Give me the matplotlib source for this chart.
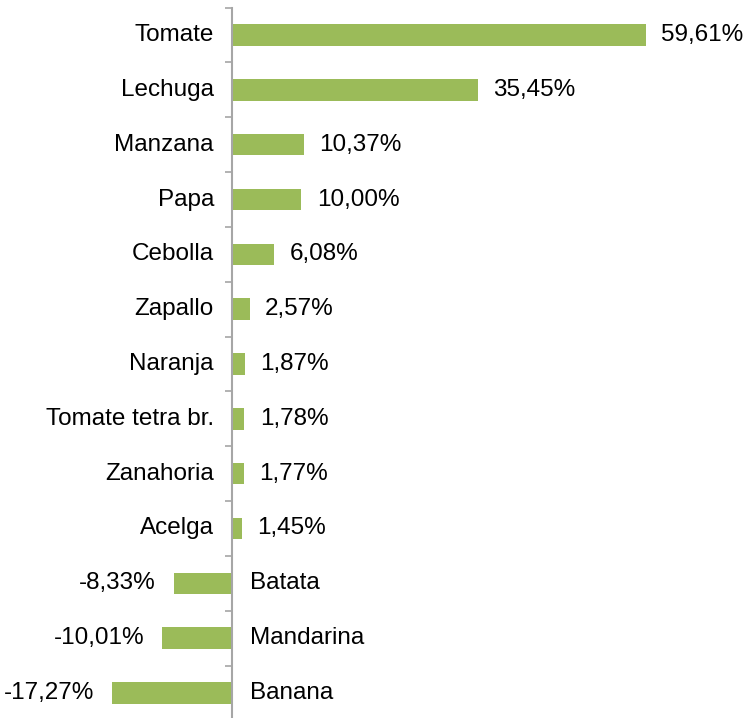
import matplotlib.pyplot as plt
import numpy as np

plt.rcParams['font.family'] = ['Liberation Sans', 'DejaVu Sans']

# Products and percentage change
productos = ["Tomate", "Lechuga", "Manzana", "Papa", "Cebolla", "Zapallo", "Naranja",
             "Tomate tetra br.", "Zanahoria", "Acelga", "Batata", "Mandarina", "Banana"]
valores = [59.61, 35.45, 10.37, 10.00, 6.08, 2.57, 1.87, 1.78, 1.77, 1.45, -8.33, -10.01, -17.27]

fig = plt.figure(figsize=(7.46, 7.18), dpi=100)
ax = fig.add_axes([0, -0.0033, 1, 0.9927])

y = np.arange(len(productos))
ax.barh(y, valores, height=0.39, color='#9BBB59')

ax.set_xlim(-33.4, 74.0)
ax.set_ylim(len(productos) - 0.5, -0.5)

# Category and value labels
for yi, nombre, v in zip(y, productos, valores):
    etiqueta = f"{v:.2f}".replace('.', ',') + '%'
    if v >= 0:
        ax.annotate(nombre, (0, yi), xytext=(-13, 0), textcoords='offset points',
                    ha='right', va='center', fontsize=17.5)
        ax.annotate(etiqueta, (v, yi), xytext=(11, 0), textcoords='offset points',
                    ha='left', va='center', fontsize=17.5)
    else:
        ax.annotate(nombre, (0, yi), xytext=(13, 0), textcoords='offset points',
                    ha='left', va='center', fontsize=17.5)
        ax.annotate(etiqueta, (v, yi), xytext=(-13, 0), textcoords='offset points',
                    ha='right', va='center', fontsize=17.5)

# Axis at zero with tick marks between categories
for s in ['top', 'right', 'bottom']:
    ax.spines[s].set_visible(False)
ax.spines['left'].set_position(('data', 0))
ax.spines['left'].set_color('#A6A6A6')
ax.spines['left'].set_linewidth(1.5)
ax.set_yticks(np.arange(len(productos) + 1) - 0.5)
ax.set_yticklabels([])
ax.tick_params(axis='y', direction='out', length=5, width=1.2, color='#A6A6A6')
ax.set_xticks([])
ax.patch.set_visible(False)

plt.savefig("out.png", dpi=100)
